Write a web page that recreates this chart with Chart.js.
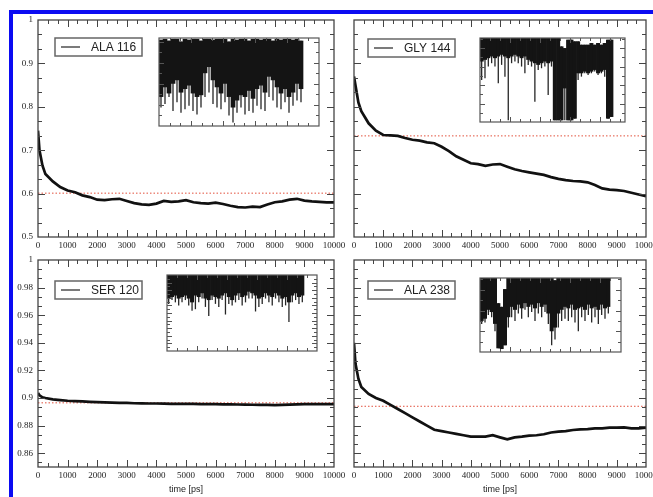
<!DOCTYPE html>
<html>
<head>
<meta charset="utf-8">
<script src="https://cdn.jsdelivr.net/npm/chart.js@4.4.1/dist/chart.umd.min.js"></script>
<style>
  html, body { margin: 0; padding: 0; background: #fff; overflow: hidden; }
  #stage { position: relative; width: 653px; height: 497px; overflow: hidden; }
  #stage canvas { position: absolute; left: 0; top: 0; }
  #frame { position: absolute; left: 9px; top: 10px; right: 0; bottom: 0;
           border-top: 4px solid #0b0bf2; border-left: 4px solid #0b0bf2; }
</style>
</head>
<body>
<div id="stage">
  <div id="frame"></div>
  <canvas id="c1" width="700" height="497"></canvas>
  <canvas id="c2" width="700" height="497"></canvas>
  <canvas id="c3" width="700" height="497"></canvas>
  <canvas id="c4" width="700" height="497"></canvas>
  <canvas id="i1" width="700" height="497"></canvas>
  <canvas id="i2" width="700" height="497"></canvas>
  <canvas id="i3" width="700" height="497"></canvas>
  <canvas id="i4" width="700" height="497"></canvas>
</div>
<script>
// time axis (ps) of the main curves
const times = [0, 50, 150, 250, 500, 750, 1000, 1250, 1500, 1750, 2000, 2250, 2500, 2750, 3000,
  3250, 3500, 3750, 4000, 4250, 4500, 4750, 5000, 5250, 5500, 5750, 6000, 6250, 6500, 6750,
  7000, 7250, 7500, 7750, 8000, 8250, 8500, 8750, 9000, 9250, 9500, 9750, 10000];

const ala116 = [0.745, 0.70, 0.665, 0.645, 0.628, 0.615, 0.607, 0.603, 0.596, 0.592, 0.586, 0.585,
  0.587, 0.588, 0.583, 0.578, 0.575, 0.574, 0.577, 0.583, 0.581, 0.582, 0.585, 0.580, 0.578, 0.577,
  0.579, 0.576, 0.572, 0.569, 0.568, 0.570, 0.569, 0.575, 0.580, 0.582, 0.586, 0.588, 0.584, 0.582,
  0.581, 0.580, 0.580];
const gly144 = [0.87, 0.85, 0.81, 0.79, 0.762, 0.745, 0.735, 0.734, 0.733, 0.728, 0.724, 0.722,
  0.718, 0.716, 0.708, 0.698, 0.686, 0.678, 0.670, 0.668, 0.664, 0.667, 0.668, 0.662, 0.656, 0.652,
  0.649, 0.646, 0.643, 0.638, 0.634, 0.631, 0.629, 0.628, 0.626, 0.620, 0.612, 0.609, 0.608, 0.606,
  0.602, 0.598, 0.594];
const ser120 = [0.9036, 0.902, 0.9005, 0.9, 0.899, 0.8985, 0.898, 0.8978, 0.8975, 0.8972, 0.897,
  0.8968, 0.8967, 0.8965, 0.8964, 0.8962, 0.8961, 0.896, 0.896, 0.8959, 0.8958, 0.8958, 0.8957,
  0.8957, 0.8956, 0.8956, 0.8955, 0.8954, 0.8954, 0.8953, 0.8952, 0.8951, 0.895, 0.895, 0.8948,
  0.895, 0.8952, 0.8954, 0.8955, 0.8955, 0.8955, 0.8956, 0.8955];
const ala238 = [0.94, 0.925, 0.914, 0.908, 0.903, 0.900, 0.898, 0.895, 0.892, 0.889, 0.886, 0.883,
  0.880, 0.877, 0.876, 0.875, 0.874, 0.873, 0.872, 0.872, 0.872, 0.873, 0.8715, 0.870, 0.8715,
  0.872, 0.8727, 0.873, 0.8737, 0.875, 0.8756, 0.876, 0.8768, 0.8773, 0.8775, 0.878, 0.878, 0.8785,
  0.8785, 0.8787, 0.878, 0.878, 0.8785];

// red dotted reference levels, one per panel
const redLevels = [0.601, 0.733, 0.8965, 0.894];

const xTicks = [0, 1000, 2000, 3000, 4000, 5000, 6000, 7000, 8000, 9000, 10000];
const yTicksUpper = [0.5, 0.6, 0.7, 0.8, 0.9, 1];
const yTicksLower = [0.86, 0.88, 0.9, 0.92, 0.94, 0.96, 0.98, 1];

// insets: per column, dense band bottom (lo), band top (hi), deepest spike (tip); 0..100 of inset height
const inset1Lo = [33, 44, 37, 48, 52, 38, 42, 46, 37, 33, 35, 60, 67, 52, 44, 37, 48, 33, 21, 29, 35, 33,
  40, 31, 42, 46, 38, 56, 52, 44, 37, 42, 33, 38, 48, 42];
const inset1Hi = [98, 99, 97, 99, 99, 96, 99, 98, 99, 99, 97, 99, 99, 98, 99, 99, 99, 96, 99, 98, 99, 99,
  97, 99, 99, 98, 99, 99, 97, 99, 98, 99, 99, 98, 99, 97];
const inset1Tip = [21, 25, 33, 17, 27, 15, 19, 23, 17, 13, 21, 33, 38, 25, 21, 19, 27, 12, 4, 15, 21, 13,
  17, 15, 23, 19, 17, 33, 29, 21, 19, 27, 15, 23, 29, 27];

const inset2Lo = [72, 74, 76, 78, 76, 78, 80, 78, 76, 78, 80, 78, 76, 78, 74, 72, 70, 68, 70, 72, 70, 72,
  2, 2, 2, 40, 2, 2, 4, 58, 58, 60, 58, 60, 62, 58, 60, 62, 4, 6];
const inset2Hi = [100, 100, 100, 100, 100, 100, 100, 100, 100, 100, 100, 100, 100, 100, 100, 100, 100,
  100, 100, 100, 100, 100, 100, 100, 90, 88, 98, 98, 96, 96, 92, 92, 92, 94, 92, 94, 92, 94, 98, 98];
const inset2Tip = [50, 52, 66, 70, 66, 46, 68, 54, 2, 70, 72, 70, 66, 58, 68, 66, 24, 62, 64, 66, 32, 66,
  2, 2, 2, 2, 2, 2, 4, 50, 54, 58, 56, 58, 60, 56, 58, 54, 4, 6];

const inset3Lo = [69, 71, 73, 69, 71, 73, 69, 64, 73, 71, 76, 69, 67, 73, 71, 69, 73, 76, 71, 67, 73, 76,
  71, 73, 78, 76, 73, 69, 71, 76, 73, 71, 76, 73, 69, 71, 64, 73, 76, 71, 73];
const inset3Hi = [100, 100, 100, 100, 100, 100, 100, 100, 100, 100, 100, 100, 100, 100, 100, 100, 100,
  100, 100, 100, 100, 100, 100, 100, 100, 100, 100, 100, 100, 100, 100, 100, 100, 100, 100, 100, 100,
  100, 100, 100, 100];
const inset3Tip = [62, 67, 64, 60, 64, 67, 60, 53, 55, 64, 69, 58, 46, 67, 62, 58, 67, 48, 62, 60, 64, 67,
  60, 64, 69, 69, 52, 58, 62, 69, 64, 60, 69, 64, 58, 60, 38, 64, 67, 62, 64];

const inset4Lo = [42, 45, 57, 54, 38, 5, 4, 9, 47, 61, 57, 64, 59, 66, 61, 64, 59, 66, 61, 64, 52, 28,
  33, 52, 57, 61, 59, 64, 57, 59, 61, 57, 64, 59, 61, 57, 64, 59, 61];
const inset4Hi = [100, 100, 100, 100, 100, 66, 61, 85, 100, 100, 100, 100, 100, 100, 100, 100, 100, 100,
  100, 100, 100, 100, 97, 100, 100, 100, 100, 100, 100, 100, 100, 100, 100, 100, 100, 100, 100, 100, 100];
const inset4Tip = [38, 40, 50, 47, 28, 5, 4, 9, 33, 47, 42, 52, 45, 57, 47, 54, 42, 52, 47, 54, 38, 9,
  17, 33, 42, 45, 42, 47, 40, 28, 47, 42, 50, 40, 47, 38, 50, 45, 52];

const W = 700, H = 497;
const serif = "'Liberation Serif', 'DejaVu Serif', serif";
const sans = "'Liberation Sans', Arial, sans-serif";

// box frame with inward major/minor ticks on all four sides (xmgrace look)
const frameTicks = {
  id: 'frameTicks',
  beforeDatasetsDraw(chart, args, o) {
    if (!o.fill) return;
    const a = chart.chartArea;
    chart.ctx.save();
    chart.ctx.fillStyle = o.fill;
    chart.ctx.fillRect(a.left, a.top, a.right - a.left, a.bottom - a.top);
    chart.ctx.restore();
  },
  afterDatasetsDraw(chart, args, o) {
    const { ctx, chartArea: a, scales: { x, y } } = chart;
    const marks = (min, max, step, div) => {
      const minor = step / div, out = [];
      for (let k = Math.ceil(min / minor - 1e-6); k * minor <= max + 1e-9; k++) out.push([k * minor, k % div === 0]);
      return out;
    };
    ctx.save();
    ctx.strokeStyle = o.color;
    ctx.lineWidth = 1;
    ctx.beginPath();
    marks(x.min, x.max, o.xStep, o.xDiv).forEach(([v, major]) => {
      const px = Math.round(x.getPixelForValue(v)) + 0.5, len = major ? o.major : o.minor;
      if (px < a.left + 1 || px > a.right - 1) return;
      ctx.moveTo(px, a.bottom); ctx.lineTo(px, a.bottom - len);
      ctx.moveTo(px, a.top); ctx.lineTo(px, a.top + len);
    });
    marks(y.min, y.max, o.yStep, o.yDiv).forEach(([v, major]) => {
      const py = Math.round(y.getPixelForValue(v)) + 0.5, len = major ? o.major : o.minor;
      if (py < a.top + 1 || py > a.bottom - 1) return;
      ctx.moveTo(a.left, py); ctx.lineTo(a.left + len, py);
      ctx.moveTo(a.right, py); ctx.lineTo(a.right - len, py);
    });
    ctx.stroke();
    ctx.lineWidth = o.frame;
    ctx.strokeRect(a.left, a.top, a.right - a.left, a.bottom - a.top);
    ctx.restore();
  }
};

// boxed legend in the upper left of each panel
const boxLegend = {
  id: 'boxLegend',
  afterDraw(chart, args, o) {
    if (!o.show) return;
    const { ctx, chartArea: a } = chart;
    const x = a.left + o.dx, y = a.top + o.dy, mid = y + o.h / 2;
    ctx.save();
    ctx.strokeStyle = '#666'; ctx.lineWidth = 1.5;
    ctx.strokeRect(x, y, o.w, o.h);
    ctx.strokeStyle = '#222'; ctx.lineWidth = 1.2;
    ctx.beginPath(); ctx.moveTo(x + 6, mid); ctx.lineTo(x + 25, mid); ctx.stroke();
    ctx.fillStyle = '#222'; ctx.font = '12px ' + sans; ctx.textBaseline = 'middle';
    ctx.fillText(chart.data.datasets[0].label, x + 36, mid + 0.5);
    ctx.restore();
  }
};

const panels = [
  { id: 'c1', label: 'ALA 116', values: ala116, ref: redLevels[0], yMin: 0.5, yMax: 1, yTicks: yTicksUpper, yStep: 0.1,
    area: { left: 38, top: 20, right: 334, bottom: 237 }, showY: true, title: false, dx: 17, dy: 18 },
  { id: 'c2', label: 'GLY 144', values: gly144, ref: redLevels[1], yMin: 0.5, yMax: 1, yTicks: yTicksUpper, yStep: 0.1,
    area: { left: 354, top: 20, right: 646, bottom: 237 }, showY: false, title: false, dx: 14, dy: 19 },
  { id: 'c3', label: 'SER 120', values: ser120, ref: redLevels[2], yMin: 0.85, yMax: 1, yTicks: yTicksLower, yStep: 0.02,
    area: { left: 38, top: 260, right: 334, bottom: 467 }, showY: true, title: true, dx: 17, dy: 21 },
  { id: 'c4', label: 'ALA 238', values: ala238, ref: redLevels[3], yMin: 0.85, yMax: 1, yTicks: yTicksLower, yStep: 0.02,
    area: { left: 354, top: 260, right: 646, bottom: 467 }, showY: false, title: true, dx: 14, dy: 21 }
];

function drawPanel(p) {
  const yW = p.showY ? 38 : 0, xH = p.title ? 28 : 16;
  new Chart(document.getElementById(p.id), {
    type: 'line',
    data: {
      datasets: [
        { label: p.label, data: times.map((t, i) => ({ x: t, y: p.values[i] })),
          borderColor: '#111', borderWidth: 2.7, pointRadius: 0, tension: 0 },
        { label: 'ref', data: [{ x: 0, y: p.ref }, { x: 10000, y: p.ref }],
          borderColor: '#e2503c', borderWidth: 1, borderDash: [1.5, 2], pointRadius: 0 }
      ]
    },
    options: {
      responsive: false, animation: false, events: [],
      layout: { padding: { left: p.area.left - yW, top: p.area.top, right: W - p.area.right, bottom: H - p.area.bottom - xH } },
      plugins: {
        legend: { display: false }, tooltip: { enabled: false },
        frameTicks: { color: '#444', frame: 1.3, major: 7, minor: 4, xStep: 1000, xDiv: 3, yStep: p.yStep, yDiv: 3 },
        boxLegend: { show: true, dx: p.dx, dy: p.dy, w: 87, h: 18 }
      },
      scales: {
        x: {
          type: 'linear', min: 0, max: 10000,
          afterFit: s => { s.height = xH; },
          afterBuildTicks: s => { s.ticks = xTicks.map(v => ({ value: v })); },
          grid: { display: false, drawTicks: false }, border: { display: false },
          ticks: { font: { family: serif, size: 9 }, color: '#222', padding: 3, maxRotation: 0, autoSkip: false,
                   callback: v => String(v) },
          title: { display: p.title, text: 'time [ps]', font: { family: sans, size: 9 }, color: '#222', padding: 0 }
        },
        y: {
          type: 'linear', display: p.showY, min: p.yMin, max: p.yMax,
          afterFit: s => { s.width = yW; },
          afterBuildTicks: s => { s.ticks = p.yTicks.map(v => ({ value: v })); },
          grid: { display: false, drawTicks: false }, border: { display: false },
          ticks: { font: { family: serif, size: 9 }, color: '#222', padding: 5, autoSkip: false,
                   callback: v => String(+v.toFixed(2)) }
        }
      }
    },
    plugins: [frameTicks, boxLegend]
  });
}

const insets = [
  { id: 'i1', lo: inset1Lo, hi: inset1Hi, tip: inset1Tip, span: 40, area: { left: 159, top: 38, right: 319, bottom: 126 },
    xStep: 8, yStep: 24, yDiv: 2 },
  { id: 'i2', lo: inset2Lo, hi: inset2Hi, tip: inset2Tip, span: 43.6, area: { left: 480, top: 38, right: 625, bottom: 122 },
    xStep: 9, yStep: 22, yDiv: 2 },
  { id: 'i3', lo: inset3Lo, hi: inset3Hi, tip: inset3Tip, span: 44.9, area: { left: 167, top: 275, right: 317, bottom: 351 },
    xStep: 9, yStep: 10, yDiv: 2 },
  { id: 'i4', lo: inset4Lo, hi: inset4Hi, tip: inset4Tip, span: 42.3, area: { left: 480, top: 278, right: 621, bottom: 352 },
    xStep: 9, yStep: 28, yDiv: 2 }
];

function drawInset(s) {
  const colPx = (s.area.right - s.area.left) / s.span;
  new Chart(document.getElementById(s.id), {
    type: 'bar',
    data: {
      datasets: [
        { label: 'band', data: s.lo.map((v, i) => ({ x: i + 0.5, y: [v, s.hi[i]] })),
          backgroundColor: '#141414', barThickness: colPx + 0.7 },
        { label: 'spikes', data: s.tip.map((v, i) => ({ x: i + 0.5, y: [v, s.hi[i]] })),
          backgroundColor: '#262626', barThickness: 1.3 }
      ]
    },
    options: {
      responsive: false, animation: false, events: [],
      datasets: { bar: { grouped: false, inflateAmount: 0 } },
      layout: { padding: { left: s.area.left, top: s.area.top, right: W - s.area.right, bottom: H - s.area.bottom } },
      plugins: {
        legend: { display: false }, tooltip: { enabled: false },
        frameTicks: { fill: '#fff', color: '#555', frame: 1.2, major: 5, minor: 3,
                      xStep: s.xStep, xDiv: 3, yStep: s.yStep, yDiv: s.yDiv },
        boxLegend: { show: false }
      },
      scales: {
        x: { type: 'linear', display: false, min: 0, max: s.span, offset: false },
        y: { type: 'linear', display: false, min: 0, max: 100 }
      }
    },
    plugins: [frameTicks, boxLegend]
  });
}

panels.forEach(drawPanel);
insets.forEach(drawInset);
</script>
</body>
</html>
